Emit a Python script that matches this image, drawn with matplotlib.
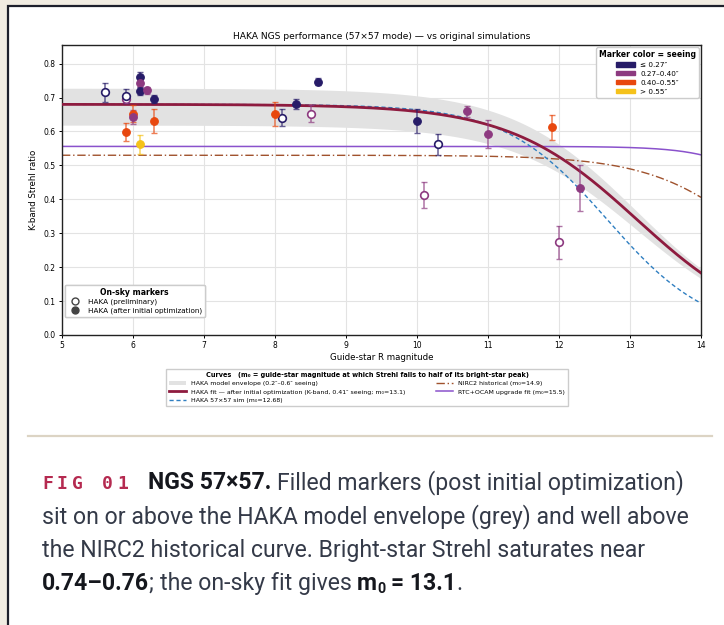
import numpy as np
import matplotlib
matplotlib.use("Agg")
import matplotlib.pyplot as plt
from matplotlib.patches import Rectangle, Patch
from matplotlib.lines import Line2D

W, H = 724, 625

# seeing bins -> colours
seeing_labels = ["\u2264 0.27\u2033", "0.27\u20130.40\u2033", "0.40\u20130.55\u2033", "> 0.55\u2033"]
seeing_colors = ["#271c68", "#8d3a80", "#e8470e", "#f5c21b"]

# preliminary (open) points: magnitude, strehl, error, seeing bin
open_mag = [5.9, 5.6, 5.9, 8.1, 8.5, 10.3, 10.1, 12.0]
open_strehl = [0.697, 0.715, 0.705, 0.641, 0.652, 0.562, 0.412, 0.273]
open_err = [0.012, 0.027, 0.020, 0.025, 0.025, 0.030, 0.038, 0.048]
open_bin = [1, 0, 0, 0, 1, 0, 1, 1]

# after initial optimization (filled)
fill_mag = [5.9, 6.0, 6.0, 6.1, 6.1, 6.1, 6.1, 6.2, 6.3, 6.3, 8.0, 8.3, 8.6, 10.0, 10.7, 11.0, 11.9, 12.3]
fill_strehl = [0.598, 0.652, 0.642, 0.760, 0.742, 0.720, 0.562, 0.722, 0.697, 0.632,
               0.652, 0.681, 0.747, 0.631, 0.659, 0.592, 0.612, 0.433]
fill_err = [0.027, 0.025, 0.020, 0.015, 0.012, 0.012, 0.028, 0.010, 0.012, 0.035,
            0.035, 0.015, 0.010, 0.035, 0.015, 0.042, 0.036, 0.067]
fill_bin = [2, 2, 1, 0, 1, 0, 3, 1, 0, 2, 2, 0, 0, 0, 1, 1, 2, 1]

# model curves: bright-star strehl, m0, roll-off width
fit_par = [0.68, 13.1, 0.90]
sim_par = [0.68, 12.68, 0.72]
nirc2_par = [0.53, 14.9, 0.76]
rtc_par = [0.556, 15.5, 0.49]
envelope_scale = [0.91, 1.07]


def strehl_curve(m, par):
    s0, m0, w = par
    return s0 / (1 + np.exp((m - m0) / w))


fig = plt.figure(figsize=(W / 100, H / 100), dpi=100)
fig.patch.set_facecolor("#f1ece2")

# white card
card = Rectangle((8 / W, -0.05), 1.1, 1 - 6 / H + 0.05, transform=fig.transFigure,
                 facecolor="white", edgecolor="#1d1f2b", linewidth=1.6, zorder=-10)
fig.patches.append(card)

ax = fig.add_axes([62 / W, 1 - 335 / H, 639 / W, 290 / H])
ax.set_xlim(5, 14)
ax.set_ylim(0, 0.855)
ax.set_xticks(range(5, 15))
ax.set_yticks(np.arange(0, 0.81, 0.1))
ax.yaxis.set_major_formatter(matplotlib.ticker.FormatStrFormatter("%.1f"))
ax.tick_params(labelsize=5.5, length=2.5, width=0.7, pad=2)
ax.grid(True, color="#e3e3e3", linewidth=0.8)
ax.set_axisbelow(True)
for s in ax.spines.values():
    s.set_color("#222222")
    s.set_linewidth(1.0)

m = np.linspace(5, 14, 400)
fit = strehl_curve(m, fit_par)
ax.fill_between(m, fit * envelope_scale[0], fit * envelope_scale[1], color="#e2e2e2", lw=0, zorder=1)
ax.plot(m, strehl_curve(m, nirc2_par), color="#a0522d", lw=1.0, ls=(0, (6, 2, 1, 2)), zorder=2)
ax.plot(m, strehl_curve(m, rtc_par), color="#8a52cc", lw=1.1, zorder=2)
ax.plot(m, strehl_curve(m, sim_par), color="#2f7fc1", lw=1.0, ls=(0, (3, 2)), zorder=2)
ax.plot(m, fit, color="#8e1b3f", lw=2.0, zorder=3)

for x, y, e, b in zip(open_mag, open_strehl, open_err, open_bin):
    c = seeing_colors[b]
    ax.errorbar(x, y, yerr=e, fmt="none", ecolor=c, alpha=0.7, elinewidth=1.1,
                capsize=2, capthick=1.0, zorder=4)
    ax.plot(x, y, "o", ms=5.5, mfc="white", mec=c, mew=1.2, zorder=5)

for x, y, e, b in zip(fill_mag, fill_strehl, fill_err, fill_bin):
    c = seeing_colors[b]
    ax.errorbar(x, y, yerr=e, fmt="none", ecolor=c, alpha=0.7, elinewidth=1.1,
                capsize=2, capthick=1.0, zorder=4)
    ax.plot(x, y, "o", ms=5.5, mfc=c, mec=c, mew=0.8, zorder=5)

ax.set_title("HAKA NGS performance (57\u00d757 mode) \u2014 vs original simulations",
             fontsize=6.6, pad=4)
ax.set_xlabel("Guide-star R magnitude", fontsize=6.2, labelpad=2)
ax.set_ylabel("K-band Strehl ratio", fontsize=6.2, labelpad=4)

# legends
seeing_handles = [Patch(facecolor=c, edgecolor=c) for c in seeing_colors]
leg1 = ax.legend(seeing_handles, seeing_labels, loc="upper right", fontsize=5.2,
                 title="Marker color = seeing", title_fontproperties={"weight": "bold", "size": 5.6},
                 handlelength=2.6, handleheight=0.55, borderaxespad=0.3, labelspacing=0.4,
                 framealpha=1, edgecolor="#cccccc", fancybox=True)
ax.add_artist(leg1)

sky_handles = [Line2D([], [], ls="none", marker="o", ms=5, mfc="white", mec="#444444", mew=1),
               Line2D([], [], ls="none", marker="o", ms=5, mfc="#444444", mec="#444444")]
leg2 = ax.legend(sky_handles, ["HAKA (preliminary)", "HAKA (after initial optimization)"],
                 loc="lower left", bbox_to_anchor=(0.004, 0.062), borderaxespad=0, fontsize=5.2,
                 title="On-sky markers", title_fontproperties={"weight": "bold", "size": 5.6},
                 labelspacing=0.3, handletextpad=0.8, framealpha=1, edgecolor="#cccccc")
ax.add_artist(leg2)

curve_handles = [Patch(facecolor="#e2e2e2", edgecolor="none"),
                 Line2D([], [], color="#8e1b3f", lw=2.0),
                 Line2D([], [], color="#2f7fc1", lw=1.0, ls=(0, (3, 2))),
                 Line2D([], [], color="#a0522d", lw=1.0, ls=(0, (6, 2, 1, 2))),
                 Line2D([], [], color="#8a52cc", lw=1.1)]
curve_labels = ["HAKA model envelope (0.2\u2033\u20130.6\u2033 seeing)",
                "HAKA fit \u2014 after initial optimization (K-band, 0.41\u2033 seeing; m\u2080=13.1)",
                "HAKA 57\u00d757 sim (m\u2080=12.68)",
                "NIRC2 historical (m\u2080=14.9)",
                "RTC+OCAM upgrade fit (m\u2080=15.5)"]
fig.legend(curve_handles, curve_labels, loc="upper center", bbox_to_anchor=(367 / W, 1 - 366 / H),
           ncol=2, fontsize=4.5, columnspacing=5, labelspacing=0.45, handlelength=2.6,
           title="Curves   (m\u2080 = guide-star magnitude at which Strehl falls to half of its bright-star peak)",
           title_fontproperties={"weight": "bold", "size": 4.7},
           framealpha=1, edgecolor="#cccccc", fancybox=False, borderpad=0.5)

# divider
fig.add_artist(Line2D([28 / W, 712 / W], [1 - 436 / H] * 2, color="#dcd4c4", lw=1.6))

# caption
r = fig.canvas.get_renderer()
cap_font = ["Roboto", "DejaVu Sans"]
cap_size = 16.6
reg = dict(family=cap_font, size=cap_size, color="#343a48")
bold = dict(family=cap_font, size=cap_size, color="#15171d", weight="bold")


def width_of(s, kw):
    t = fig.text(0, 0, s, **kw)
    w = t.get_window_extent(r).width
    t.remove()
    return w


space = width_of("a a", reg) - width_of("aa", reg)


def draw_line(pieces, x, y):
    for s, kw, gap, dy in pieces:
        x += gap
        t = fig.text(x / W, 1 - (y + dy) / H, s, va="baseline", ha="left", **kw)
        x = t.get_window_extent(r).x1


# FIG 01 in letter-spaced mono
for i, ch in enumerate("FIG 01"):
    fig.text((42 + i * 15) / W, 1 - 489 / H, ch, family="DejaVu Sans Mono", size=13,
             weight="bold", color="#b52a50", va="baseline", ha="left")

draw_line([("NGS 57\u00d757.", bold, 0, 0),
           ("Filled markers (post initial optimization)", reg, space, 0)], 148, 489)
draw_line([("sit on or above the HAKA model envelope (grey) and well above", reg, 0, 0)], 42, 523)
draw_line([("the NIRC2 historical curve. Bright-star Strehl saturates near", reg, 0, 0)], 42, 557)
sub = dict(bold, size=cap_size * 0.62)
draw_line([("0.74\u20130.76", bold, 0, 0), (";", reg, 0, 0),
           ("the on-sky fit gives", reg, space, 0), ("m", bold, space, 0),
           ("0", sub, 0, 3), ("= 13.1", bold, space, 0), (".", reg, 0, 0)], 42, 590)

fig.savefig("out.png", dpi=100, facecolor=fig.get_facecolor())
